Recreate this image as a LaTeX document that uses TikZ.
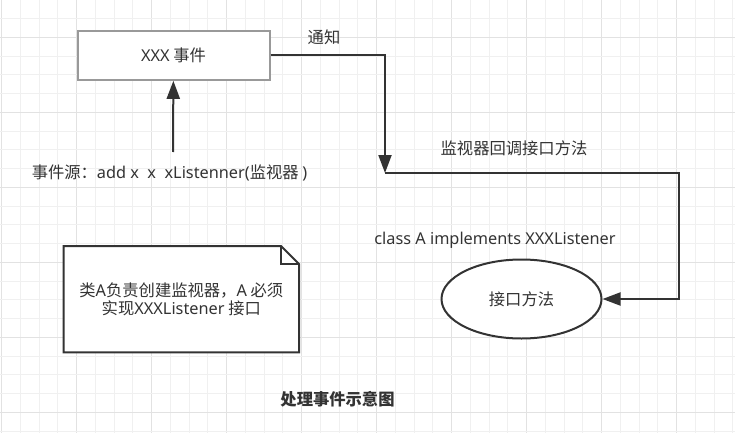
\documentclass[tikz,border=0pt]{standalone}
\usepackage{fontspec}
\setmainfont{Noto Sans CJK SC}
\newfontfamily\lat{Noto Sans}
\usepackage{tikz}
\usetikzlibrary{arrows.meta, shapes.geometric, positioning}

\definecolor{ink}{HTML}{333333}
\definecolor{boxline}{HTML}{999999}
\definecolor{gridmin}{HTML}{F0F0F0}
\definecolor{gridmaj}{HTML}{E2E2E2}

\begin{document}
\begin{tikzpicture}[x=1pt,y=-1pt,on grid,>={Triangle[length=18pt,width=13pt]},
      every node/.style={text=ink,font=\fontsize{16.3}{18.5}\selectfont},
      flow/.style={draw=ink,line width=2pt},
      event/.style={draw=boxline,fill=white,line width=2pt,minimum width=192pt,minimum height=49pt},
      method/.style={ellipse,draw=ink,fill=white,line width=2pt,minimum width=160pt,minimum height=79pt},
      minor/.style={draw=gridmin,line width=1pt},
      major/.style={draw=gridmaj,line width=1pt}]
      \useasboundingbox[fill=white] (0,0) rectangle (735,433);
      % grid
      \foreach \k in {0,...,39}{
        \pgfmathtruncatemacro\r{mod(\k,4)}
        \ifnum\r=0 \def\gs{major}\else\def\gs{minor}\fi
        \draw[\gs] (1.7+18.75*\k,0) -- (1.7+18.75*\k,433);
      }
      \foreach \k in {1,...,23}{
        \pgfmathtruncatemacro\r{mod(\k,4)}
        \ifnum\r=2 \def\gs{major}\else\def\gs{minor}\fi
        \draw[\gs] (0,-0.2+18.75*\k) -- (735,-0.2+18.75*\k);
      }

      \node[event] (evt) at (173.5,55.3) {{\lat XXX} 事件};
      \node (src) at (169.5,172.5) {事件源：{\lat add x~~x~~xListenner(}监视器 {\lat )}};
      \coordinate (reg) at (173,152);
      \node (notify) at (324,37) {通知};
      \coordinate (junc) at (385,173);
      \coordinate (bend) at (679,173);
      \node (cb) at (514,148) {监视器回调接口方法};
      \node[method] (ifc) at (521.5,299) {接口方法};
      \node (impl) [above=59pt of ifc, xshift=-26.5pt] {\lat class A implements XXXListener};

      % note with folded corner
      \node[minimum width=235pt,minimum height=106pt] (note) at (181.3,299.2) {};
      \draw[flow,fill=white,line join=miter] (note.north west) -- ([xshift=-18pt]note.north east)
        -- ([yshift=-18pt]note.north east) -- (note.south east) -- (note.south west) -- cycle;
      \draw[flow,line join=miter] ([xshift=-18pt]note.north east) -- ([xshift=-18pt,yshift=-18pt]note.north east)
        -- ([yshift=-18pt]note.north east);
      \node[align=center] at (note) {类{\lat A}负责创建监视器，{\lat A} 必须\\实现{\lat XXXListener} 接口};

      \draw[flow,->] (reg) -- (evt);
      \draw[flow,->] (evt.east) -| (junc);
      \draw[flow,->] (junc) -- (bend) |- (ifc.east);

      \node[font=\fontsize{16.3}{18.5}\selectfont\bfseries] (title) at (337.5,399.5) {处理事件示意图};
    \end{tikzpicture}
\end{document}
